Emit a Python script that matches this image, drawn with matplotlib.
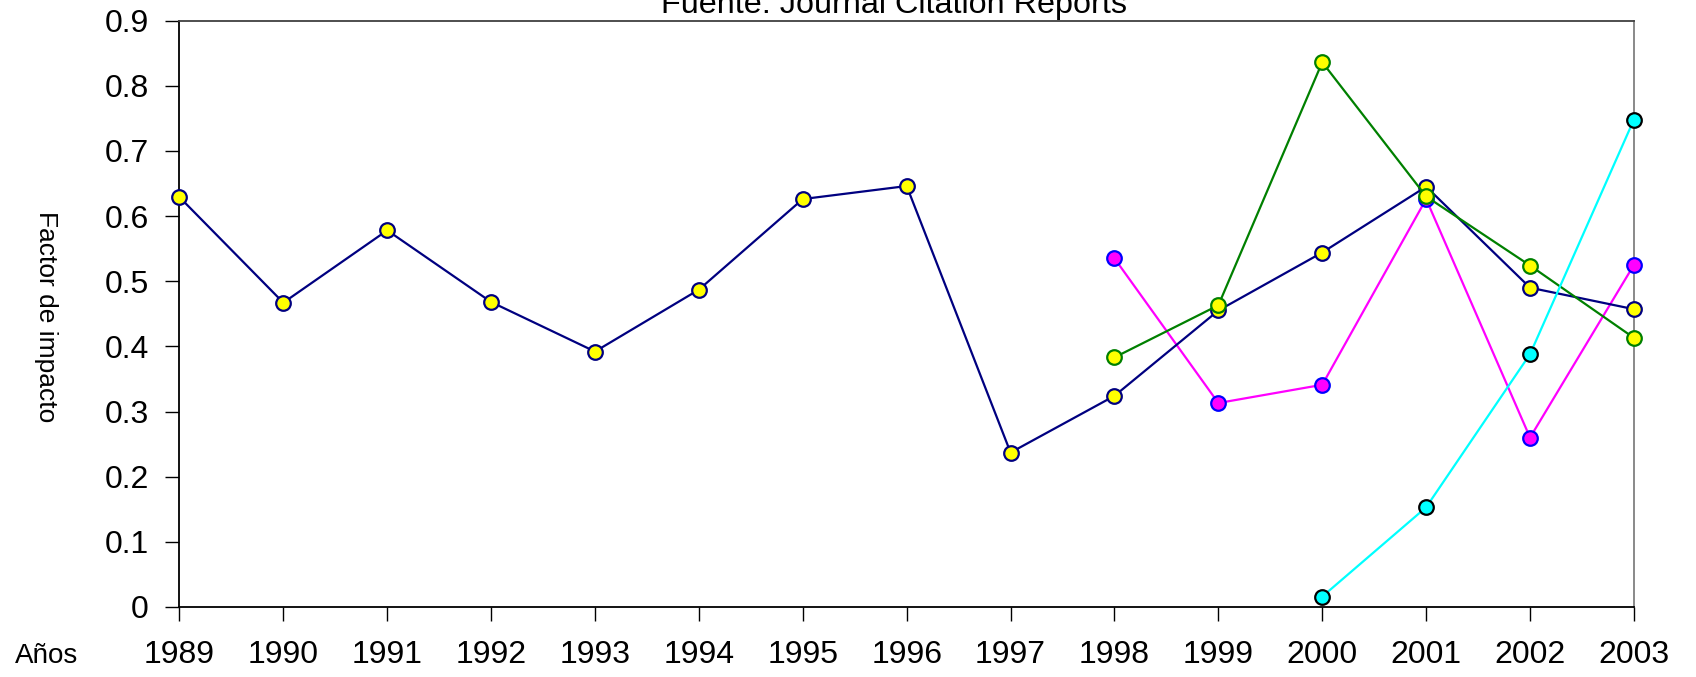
import matplotlib
matplotlib.use("Agg")
import matplotlib.pyplot as plt

plt.rcParams["font.family"] = ["Liberation Sans", "DejaVu Sans"]

years = list(range(1989, 2004))
year_labels = [str(y) for y in years]

# serie principal (1989-2003)
navy_years = list(range(1989, 2004))
navy_vals = [0.629, 0.467, 0.578, 0.468, 0.392, 0.487, 0.626, 0.646, 0.237,
             0.324, 0.455, 0.544, 0.645, 0.490, 0.457]

green_years = [1998, 1999, 2000, 2001, 2002, 2003]
green_vals = [0.383, 0.463, 0.836, 0.630, 0.524, 0.413]

magenta_years = [1998, 1999, 2000, 2001, 2002, 2003]
magenta_vals = [0.535, 0.313, 0.341, 0.626, 0.260, 0.525]

cyan_years = [2000, 2001, 2002, 2003]
cyan_vals = [0.016, 0.153, 0.388, 0.748]

y_ticks = [0, 0.1, 0.2, 0.3, 0.4, 0.5, 0.6, 0.7, 0.8, 0.9]
y_tick_labels = ["0", "0.1", "0.2", "0.3", "0.4", "0.5", "0.6", "0.7", "0.8", "0.9"]

fig = plt.figure(figsize=(16.96, 6.77), dpi=100)
ax = fig.add_axes([0.1058, 0.1034, 0.8576, 0.8663])

ms = 10.5
lw = 1.6
mew = 1.6
ax.plot(magenta_years, magenta_vals, color="#FF00FF", lw=lw, marker="o", ms=ms,
        mfc="#FF00FF", mec="#0000FF", mew=mew, clip_on=False, zorder=3)
ax.plot(navy_years, navy_vals, color="#000080", lw=lw, marker="o", ms=ms,
        mfc="#FFFF00", mec="#000080", mew=mew, clip_on=False, zorder=4)
ax.plot(green_years, green_vals, color="#008000", lw=lw, marker="o", ms=ms,
        mfc="#FFFF00", mec="#008000", mew=mew, clip_on=False, zorder=5)
ax.plot(cyan_years, cyan_vals, color="#00FFFF", lw=lw, marker="o", ms=ms,
        mfc="#00FFFF", mec="#000000", mew=mew, clip_on=False, zorder=6)

ax.set_xlim(1989, 2003)
ax.set_ylim(0, 0.9)
ax.set_xticks(years)
ax.set_xticklabels(year_labels)
ax.set_yticks(y_ticks)
ax.set_yticklabels(y_tick_labels)
ax.tick_params(axis="x", direction="out", length=10, width=1, pad=14, labelsize=23)
ax.tick_params(axis="y", direction="out", length=10, width=1, pad=12, labelsize=23)

ax.spines["left"].set_color("black")
ax.spines["bottom"].set_color("black")
ax.spines["top"].set_color("#404040")
ax.spines["right"].set_color("#808080")
for s in ax.spines.values():
    s.set_linewidth(1.3)

fig.text(0.527, 1 - 13 / 677, "Fuente: Journal Citation Reports", ha="center",
         va="baseline", fontsize=23.3)
fig.text(46 / 1696, 1 - 317 / 677, "Factor de impacto", rotation=-90,
         ha="center", va="center", fontsize=19)
fig.text(15 / 1696, 1 - 656 / 677, "Años", ha="left", va="center", fontsize=20)

fig.savefig("out.png", dpi=100)
